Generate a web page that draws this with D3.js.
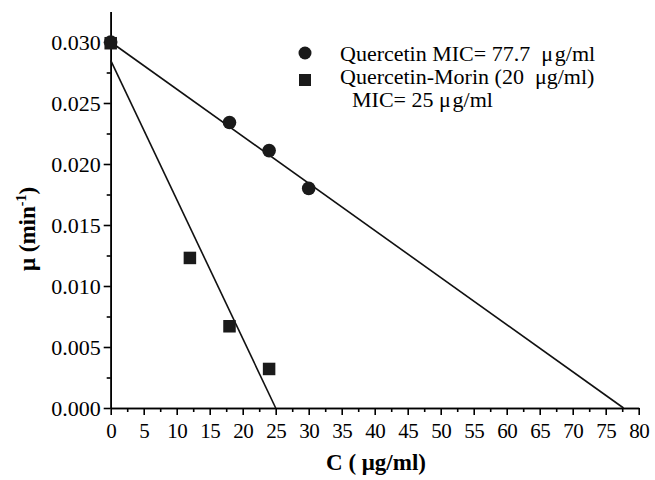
<!DOCTYPE html>
<html>
<head>
<meta charset="utf-8">
<script src="https://cdn.jsdelivr.net/npm/d3@7"></script>
<style>
  body { margin: 0; background: #fff; }
  svg { display: block; }
  .axis path, .axis line { stroke: #000; stroke-width: 1.6; }
  .axis text { fill: #000; }
</style>
</head>
<body>
<div id="chartArea"></div>
<script>
// data
var quercetinC = [0, 18, 24, 30];
var quercetinMu = [0.0300, 0.0234, 0.0211, 0.0180];
var morinC = [0, 12, 18, 24];
var morinMu = [0.0299, 0.0123, 0.0067, 0.0032];
// fitted lines: intercept on the mu axis and the MIC (where mu = 0)
var fitIntercepts = [0.0300, 0.0285];
var fitMIC = [77.7, 25];
var xTicks = d3.range(0, 81, 5);
var yTicks = d3.range(0, 0.0301, 0.005);
var legendLabels = [
    "Quercetin MIC= 77.7\u00a0\u00a0\u03bc\u200ag/ml",
    "Quercetin-Morin (20\u00a0\u00a0\u03bcg/ml)",
    "MIC= 25\u00a0\u03bc\u200ag/ml"
];

var serif = "'Liberation Serif', 'Times New Roman', serif";
var width = 655, height = 480;
var svg = d3.select("#chartArea").append("svg")
    .attr("width", width)
    .attr("height", height);

var x = d3.scaleLinear().domain([0, 80]).range([110.7, 638.7]);
var y = d3.scaleLinear().domain([0, 0.0325]).range([408, 11.5]);

// minor ticks first (no labels)
var xMinor = d3.range(2.5, 80, 5);
var yMinor = d3.range(0.0025, 0.0325, 0.005);

svg.append("g")
    .attr("class", "axis")
    .attr("transform", "translate(0," + y(0) + ")")
    .call(d3.axisBottom(x).tickValues(xMinor).tickSize(4).tickSizeOuter(0).tickFormat(""));

svg.append("g")
    .attr("class", "axis")
    .attr("transform", "translate(" + x(0) + ",0)")
    .call(d3.axisLeft(y).tickValues(yMinor).tickSize(4).tickSizeOuter(0).tickFormat(""));

// major ticks with labels
var xAxis = svg.append("g")
    .attr("class", "axis")
    .attr("transform", "translate(0," + y(0) + ")")
    .call(d3.axisBottom(x).tickValues(xTicks).tickSize(7).tickSizeOuter(0).tickPadding(8).tickFormat(d3.format("d")));
xAxis.attr("font-family", serif).attr("font-size", 21);
xAxis.selectAll("text")
    .style("font-family", serif)
    .style("font-size", "21px")
    .style("letter-spacing", "-0.5px");

var yAxis = svg.append("g")
    .attr("class", "axis")
    .attr("transform", "translate(" + x(0) + ",0)")
    .call(d3.axisLeft(y).tickValues(yTicks).tickSize(7).tickSizeOuter(0).tickPadding(3).tickFormat(d3.format(".3f")));
yAxis.attr("font-family", serif).attr("font-size", 22);
yAxis.selectAll("text")
    .style("font-family", serif)
    .style("font-size", "22px");

// fitted lines
fitIntercepts.forEach(function (b, i) {
    svg.append("line")
        .attr("x1", x(0)).attr("y1", y(b))
        .attr("x2", x(fitMIC[i])).attr("y2", y(0))
        .attr("stroke", "#111")
        .attr("stroke-width", 1.6);
});

// circles
svg.append("g").selectAll("circle")
    .data(quercetinC)
    .enter().append("circle")
    .attr("cx", function (d) { return x(d); })
    .attr("cy", function (d, i) { return y(quercetinMu[i]); })
    .attr("r", 6.8)
    .attr("fill", "#1a1a1a");

// squares
var sq = 12.5;
svg.append("g").selectAll("rect")
    .data(morinC)
    .enter().append("rect")
    .attr("x", function (d) { return x(d) - sq / 2; })
    .attr("y", function (d, i) { return y(morinMu[i]) - sq / 2; })
    .attr("width", sq)
    .attr("height", sq)
    .attr("fill", "#1a1a1a");

// legend
var legend = svg.append("g")
    .style("font-family", serif)
    .style("font-size", "22px");
legend.append("circle").attr("cx", 305).attr("cy", 53).attr("r", 6.5).attr("fill", "#1a1a1a");
legend.append("rect").attr("x", 299).attr("y", 74).attr("width", 12).attr("height", 12).attr("fill", "#1a1a1a");
legend.append("text").attr("x", 340).attr("y", 60.5).text(legendLabels[0]);
legend.append("text").attr("x", 340).attr("y", 83.5).text(legendLabels[1]);
legend.append("text").attr("x", 352).attr("y", 106.5).text(legendLabels[2]);

// axis titles
svg.append("text")
    .attr("x", 376).attr("y", 470)
    .attr("text-anchor", "middle")
    .style("font-family", serif)
    .style("font-size", "23px")
    .style("font-weight", "bold")
    .text("C (\u00a0\u03bcg/ml)");

var yt = svg.append("text")
    .attr("transform", "translate(35,229) rotate(-90)")
    .attr("text-anchor", "middle")
    .style("font-family", serif)
    .style("font-size", "23px")
    .style("font-weight", "bold");
yt.append("tspan").text("\u03bc (min");
yt.append("tspan").attr("dy", -9).style("font-size", "14px").text("-1");
yt.append("tspan").attr("dy", 9).text(")");
</script>
</body>
</html>
